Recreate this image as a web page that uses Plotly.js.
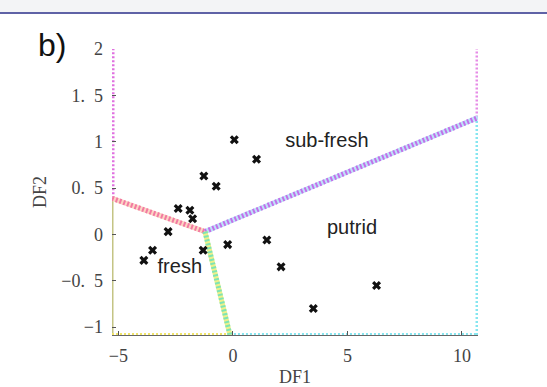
<!DOCTYPE html>
<html>
<head>
<meta charset="utf-8">
<script src="https://cdn.plot.ly/plotly-3.0.1.min.js"></script>
<style>
  html, body { margin: 0; padding: 0; background: #ffffff; }
  #band { position: absolute; left: 0; top: 0; width: 547px; height: 12px; background: #f3f4f6; border-bottom: 2px solid #5f62a6; z-index: 5; }
  #chart { position: absolute; left: 0; top: 0; width: 547px; height: 387px; }
</style>
</head>
<body>
<div id="chart"></div>
<div id="band"></div>
<script>
// Sample scores (DF1, DF2)
const df1 = [0.06, 1.03, -1.27, -0.73, -2.39, -1.88, -1.76, -2.83, -3.51, -3.89, -1.30, -0.23, 1.48, 2.10, 3.51, 6.27];
const df2 = [1.02, 0.81, 0.63, 0.52, 0.28, 0.26, 0.17, 0.03, -0.17, -0.28, -0.17, -0.11, -0.06, -0.35, -0.80, -0.55];

// Axis limits
const xLim = [-5.28, 10.7];
const yLim = [-1.085, 2.0];

// Decision boundary vertices
const triple = [-1.22, 0.03];
const freshSubX = [-5.28, -1.22];
const freshSubY = [0.39, 0.03];
const subPutX = [-1.22, 10.7];
const subPutY = [0.03, 1.26];
const freshPutX = [-1.22, -0.13];
const freshPutY = [0.03, -1.085];

// Region labels
const labelText = ["sub-fresh", "putrid", "fresh"];
const labelX = [4.1, 5.2, -2.32];
const labelY = [1.0, 0.06, -0.36];

const xTicks = [-5, 0, 5, 10];
const xTickText = ["\u22125", "0", "5", "10"];
const yTicks = [-1, -0.5, 0, 0.5, 1, 1.5, 2];
const yTickText = ["\u22121", "\u22120.\u20025", "0", "0.\u20025", "1", "1.\u20025", "2"];

function seg(x, y, color, width, dash) {
  return { type: 'scatter', mode: 'lines', x: x, y: y, cliponaxis: false, hoverinfo: 'skip', showlegend: false,
           line: { color: color, width: width, dash: dash || 'solid' } };
}

const traces = [
  // plot-edge outlines of regions
  seg([xLim[0], xLim[0]], [freshSubY[0], yLim[1]], '#e070e0', 5, '2px,2px'),
  seg([xLim[0], xLim[0]], [yLim[0], freshSubY[0]], '#c4c484', 3),
  seg([xLim[0], freshPutX[1]], [yLim[0], yLim[0]], '#f0e46a', 4, '2px,2px'),
  seg([freshPutX[1], xLim[1]], [yLim[0], yLim[0]], '#86e4ee', 4, '2px,2px'),
  seg([xLim[1], xLim[1]], [yLim[0], subPutY[1]], '#86e6f0', 5, '2px,2px'),
  seg([xLim[1], xLim[1]], [subPutY[1], yLim[1]], '#e68ce6', 5, '2px,2px'),
  // class boundaries (two-colour dotted)
  seg(freshSubX, freshSubY, '#fcd6c4', 5),
  seg(freshSubX, freshSubY, '#f27aa2', 5, '2px,2px'),
  seg(subPutX, subPutY, '#bde2f8', 5),
  seg(subPutX, subPutY, '#c270ea', 5, '2px,2px'),
  seg(freshPutX, freshPutY, '#eef08a', 5),
  seg(freshPutX, freshPutY, '#7ee4b4', 5, '2px,2px'),
  // samples
  { type: 'scatter', mode: 'markers', x: df1, y: df2, showlegend: false, cliponaxis: false,
    marker: { symbol: 'x', size: 8, color: '#111111', line: { width: 0 } } },
  // region labels
  { type: 'scatter', mode: 'text', x: labelX, y: labelY, text: labelText, showlegend: false, hoverinfo: 'skip',
    textfont: { family: 'Liberation Sans, Arial, sans-serif', size: 20, color: '#222222' } }
];

const layout = {
  width: 547, height: 387,
  margin: { l: 112, r: 69, t: 49, b: 52 },
  paper_bgcolor: 'rgba(0,0,0,0)', plot_bgcolor: 'rgba(0,0,0,0)',
  showlegend: false,
  font: { family: 'Liberation Serif, Times New Roman, serif', size: 18, color: '#444444' },
  xaxis: {
    range: xLim, showgrid: false, zeroline: false,
    showline: true, linecolor: '#666666', linewidth: 1,
    ticks: 'inside', ticklen: 4, tickcolor: '#555555',
    tickvals: xTicks, ticktext: xTickText, ticklabelstandoff: 4,
    tickfont: { family: 'Liberation Serif, serif', size: 18, color: '#444444' },
    title: { text: 'DF1', standoff: 6, font: { family: 'Liberation Serif, serif', size: 18, color: '#444444' } }
  },
  yaxis: {
    range: yLim, showgrid: false, zeroline: false,
    showline: false,
    ticks: 'inside', ticklen: 4, tickcolor: '#555555',
    tickvals: yTicks, ticktext: yTickText, ticklabelstandoff: 8,
    tickfont: { family: 'Liberation Serif, serif', size: 18, color: '#444444' },
    title: { text: 'DF2', standoff: 10, font: { family: 'Liberation Serif, serif', size: 18, color: '#444444' } }
  },
  annotations: [
    { text: 'b)', xref: 'paper', yref: 'paper', x: -0.164, y: 1.014, xanchor: 'center', yanchor: 'middle',
      showarrow: false, font: { family: 'Liberation Sans, Arial, sans-serif', size: 32, color: '#111111' } }
  ]
};

Plotly.newPlot('chart', traces, layout, { displayModeBar: false, staticPlot: true });
</script>
</body>
</html>
